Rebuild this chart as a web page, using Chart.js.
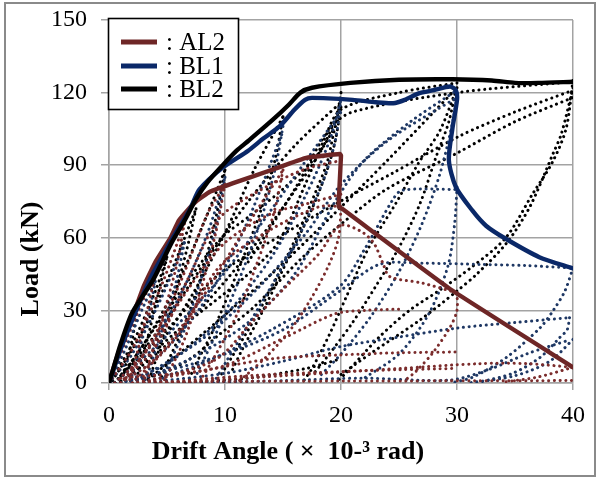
<!DOCTYPE html>
<html><head><meta charset="utf-8">
<script src="https://cdn.jsdelivr.net/npm/chart.js@4/dist/chart.umd.min.js"></script>
<style>html,body{margin:0;padding:0;background:#fff;}#wrap{width:598px;height:477px;}</style>
</head><body><div id="wrap"><canvas id="c" width="598" height="477"></canvas></div>
<script>
// ---- axis ticks ----
const xTicks = [0, 10, 20, 30, 40];
const yTicks = [0, 30, 60, 90, 120, 150];
const legendLabels = [': AL2', ': BL1', ': BL2'];
const xTitle = 'Drift Angle ( \u00D7  10-\u00B3 rad)';
const yTitle = 'Load (kN)';

// ---- envelope (skeleton) curves [drift, load] ----
const al2Envelope = [[0,0],[0.5,8],[1,15],[2,27],[3,40],[4,50],[5.3,60],[6,67],[6.7,71],[7.5,75],[8.7,79],[10.7,82.6],[14,88],[17,93],[19.9,94.6],[20,94],[19.8,72.8],[20.1,72],[29.6,38.2],[40,6.5]];
const bl1Envelope = [[0,0],[0.5,7],[1,14],[2,26],[3.5,42.6],[4.8,54],[5.5,60],[7,72],[7.8,80],[9.8,89],[12,96],[13.3,101],[14.7,106],[16,113],[16.9,117],[17.5,117.8],[21,117],[23,116],[24.5,115.6],[25.5,117],[26.7,119.7],[28,121],[29.4,122.5],[29.9,121],[30,117],[29.6,105],[29.3,92],[29.9,81],[31.3,71.4],[32.5,65],[34.2,59.6],[37.1,52],[40,47.3]];
const bl2Envelope = [[0,0],[0.5,8],[1,16],[2,29],[3.8,42.6],[5.4,58],[6.5,67],[7.5,76],[8.5,83],[9.8,90],[11,96],[12,100],[14.1,108.7],[15.5,115],[16.5,120],[17.5,122],[20.8,124],[25,125.3],[29.6,125.5],[33,125],[35,124],[37,124],[40,124.5]];

// ---- hysteresis loops (dotted) [drift, load] ----
const al2Loops = [
 [[0,0],[1.5,18],[3,35],[4,45]],
 [[4,45],[3.3,30],[2.3,10],[1.7,0]],
 [[0,0],[2,14],[4.5,40],[6.5,66]],
 [[6.5,66],[5.8,48],[4.5,25],[3.3,6],[3,0]],
 [[0.5,0],[3,12],[6,40],[8.5,70],[10,82]],
 [[10,82],[9.2,62],[8,40],[6.5,18],[5,3],[4.6,0]],
 [[1,0],[4,10],[8,35],[11.5,62],[15,88]],
 [[15,88],[14.2,70],[12.8,50],[11,28],[9,10],[8,2]],
 [[1,0],[4,15],[7,45],[9.5,68],[12.4,78],[16.7,88],[20,92]],
 [[2,0],[6,20],[9.5,48],[13.8,63],[18.1,72.8],[20,73]],
 [[1,0],[4,18],[7,40],[10,58],[14,70],[17,74],[20,78]],
 [[20,72],[19.8,60.3],[19,49.3],[17.5,35.5],[15.8,23],[13.8,12],[12,4],[11,0]],
 [[3,0],[6,4],[9.5,10.6],[12.4,25.8],[15.2,39.6],[18.1,53.4],[19.9,65],[21.6,63],[22.8,58],[23.6,49.6],[24.2,44],[27,41.3],[30,37.2]],
 [[30,37.2],[30,30],[29.4,23],[27.9,12.4],[26.5,5],[25.5,1]],
 [[1,2],[9.5,6.5],[15.2,18.9],[19.5,28.6],[22,30],[25,30.5]],
 [[2,0],[8,5],[14,10],[19.9,11.6],[25,12.5],[30,12.8]],
 [[4,0],[12,3],[19.9,4.7],[25,5.5],[30,6]],
 [[5,0],[15,3],[25,6],[32,8],[36,8],[40,6.5]],
 [[40,6.5],[37,2.5],[34,0.4]],
 [[3,0.5],[20,0.8],[40,1]]
];
const bl1Loops = [
 [[0,0],[1.5,15],[3,32],[4,42]],
 [[4,42],[3.4,28],[2.4,10],[1.8,0]],
 [[0,0],[2,12],[4.5,35],[6.5,58]],
 [[6.5,58],[5.8,42],[4.6,22],[3.5,6],[3,0]],
 [[0.5,0],[3,12],[6,35],[8.5,62],[10,85]],
 [[10,85],[9.3,66],[8,44],[6.5,22],[5,6],[4.5,0]],
 [[1,0],[4,10],[8,32],[11.5,62],[15,104]],
 [[15,106],[14.3,88],[13,66],[11,40],[9,18],[7.5,3]],
 [[1,0],[5,8],[10,28],[14,52],[17,78],[19,100],[20,117]],
 [[0.5,0],[4,15],[9,40],[13,65],[17,92],[20,112]],
 [[20,117],[19.5,100],[18.5,84],[16.5,62],[14,40],[11.5,20],[10,8],[9,0]],
 [[2,0],[7,10],[12,25],[16,45],[19.5,75],[22,92],[26,108],[30,121]],
 [[2,0],[8,18],[13,40],[17,62],[20,82],[24,100],[30,118]],
 [[30,118],[29.5,105],[28.5,86],[27,66],[25,46],[22.5,27],[20,12],[18,2]],
 [[3,0],[8,8],[14,22],[19.9,40],[22,55],[24.5,76],[25.3,79.7],[30,80]],
 [[30,81],[29.8,66],[29.2,48],[27.5,28],[25,12],[22,2]],
 [[1,0],[5,5],[10,12],[15,22],[19.9,38],[23.3,49],[27,49.5],[32,49],[36,48.5],[40,47.5]],
 [[40,47.5],[39.3,38],[38.3,30],[37.2,23],[34.3,10.7],[31.4,2.5],[29.5,0]],
 [[3,0],[10,4],[15,9],[19.9,15],[25,19],[30,22.7],[35,25],[39.7,27]],
 [[39.7,27],[39.5,22],[38.9,19],[37.2,10.7],[34.8,4],[32,0.4]],
 [[5,0],[15,1],[22,2],[29.4,1.2],[33,6],[36,12],[39.7,17.8]],
 [[40,18],[38,9],[35,3],[31,0]]
];
const bl2Loops = [
 [[0,0],[1,14],[2,28],[2.5,33]],
 [[2.5,33],[2,18],[1.3,5],[1,0]],
 [[0,0],[2,16],[4,38],[5,52]],
 [[5,52],[4.3,38],[3.3,18],[2.5,4],[2.2,0]],
 [[0.3,1],[2.5,18],[5,42],[7.5,72]],
 [[7.5,72],[6.7,55],[5.5,33],[4.2,12],[3.5,2]],
 [[0.5,0],[3,16],[6,42],[8.5,70],[10,88]],
 [[10,88],[9.2,68],[8,45],[6.5,24],[5,8],[4.5,2]],
 [[1,0],[4,14],[7,35],[10,62],[12.5,88],[15,110]],
 [[15,110],[14.3,92],[13,70],[11,45],[9,22],[7.3,6],[6.8,0]],
 [[1,2],[5,30],[9.5,59],[12.4,70],[15.2,81],[18.1,95],[19.5,109],[20,118]],
 [[0.5,0],[4,20],[8,48],[12,75],[16,98],[20,116]],
 [[1,0],[5,16],[10,42],[14,66],[17.5,90],[20,110]],
 [[1,0],[6,22],[12,45],[14.7,59],[17,83],[18.5,100],[20,113],[25,120],[30,124]],
 [[3,0],[8,20],[14,45],[19,68],[24,92],[28,112],[30,122]],
 [[20,120],[19.7,110],[19.4,104],[18.8,91],[17.9,80],[16.5,64],[14.5,44],[12.5,26],[10.5,10],[9.5,2]],
 [[20,114],[19.5,100],[18.8,88],[17.5,72],[15.5,52],[13.5,32],[11.5,14],[10.5,4]],
 [[30,124],[29.3,108],[28.2,93.5],[26.8,74],[25,56],[23,40],[21,25],[19,12],[17.5,3]],
 [[30,122],[28.5,104],[26.7,91],[24.7,74],[22.4,56],[20.4,35],[19,20],[17.5,6],[16.8,1]],
 [[1,3],[5,22],[9.5,45],[15.2,62],[20.1,75.5],[24.4,86.6],[30.2,102],[35,112],[40,121]],
 [[0,0],[4,3],[7,10],[9.5,20],[12.4,31],[16.7,52],[20.1,66],[23.9,80],[30,95],[35,108],[40,118]],
 [[12,50],[16,80],[19,105],[21,112],[30,120],[40,124.5]],
 [[40,125],[39.4,105],[38.2,91],[36.5,78],[34.2,60],[31.3,48],[28.4,38],[25.9,30],[23.3,19],[20.4,4],[19.5,0]],
 [[40,122],[39,103],[38.3,95],[36.3,73],[34.3,58],[31.7,45],[30,38],[26.8,26],[22.8,13],[19.7,2.5]],
 [[6,0],[12,2],[17,6],[20,10]]
];

const colAL2 = '#6E2626', colBL1 = '#0A2868', colBL2 = '#000000';
const dotAL2 = '#7B2C2C', dotBL1 = '#1F3864', dotBL2 = '#000000';

const toPts = arr => arr.map(p => ({x: p[0], y: p[1]}));
function envelope(arr, color, order, tension) {
  return {data: toPts(arr), borderColor: color, borderWidth: 4.4, showLine: true, pointRadius: 0, pointHoverRadius: 0,
          tension: tension, order: order, fill: false, borderCapStyle: 'round', borderJoinStyle: 'round'};
}
function dotted(arr, color) {
  return {data: toPts(arr), borderColor: color, borderWidth: 3, showLine: true, pointRadius: 0, pointHoverRadius: 0,
          tension: 0.3, order: 10, fill: false, borderDash: [0.1, 5.6], borderCapStyle: 'round'};
}
const datasets = [];
al2Loops.forEach(l => datasets.push(dotted(l, dotAL2)));
bl1Loops.forEach(l => datasets.push(dotted(l, dotBL1)));
bl2Loops.forEach(l => datasets.push(dotted(l, dotBL2)));
datasets.push(envelope(al2Envelope, colAL2, 3, 0.1));
datasets.push(envelope(bl1Envelope, colBL1, 2, 0.25));
datasets.push(envelope(bl2Envelope, colBL2, 1, 0.25));

const serif = "'Liberation Serif', 'Times New Roman', serif";
const gridCol = '#a3a3a3';

const decor = {
  id: 'decor',
  afterDraw(chart) {
    const ctx = chart.ctx;
    ctx.save();
    ctx.strokeStyle = '#8a8a8a'; ctx.lineWidth = 2;
    ctx.strokeRect(5, 3, 590, 473);
    ctx.fillStyle = '#000';
    ctx.font = 'bold 26px ' + serif;
    ctx.textAlign = 'center'; ctx.textBaseline = 'middle';
    ctx.fillText(xTitle, 288, 452);
    ctx.save();
    ctx.translate(31, 259); ctx.rotate(-Math.PI / 2);
    ctx.fillText(yTitle, 0, 0);
    ctx.restore();
    ctx.fillStyle = '#fff';
    ctx.fillRect(108, 18, 131, 92);
    ctx.strokeStyle = '#000'; ctx.lineWidth = 1.6;
    ctx.strokeRect(108.5, 18.5, 130, 91);
    const cols = [colAL2, colBL1, colBL2];
    const ys = [42, 66, 89];
    ctx.font = '25px ' + serif;
    ctx.textAlign = 'left'; ctx.textBaseline = 'middle';
    for (let i = 0; i < 3; i++) {
      ctx.strokeStyle = cols[i]; ctx.lineWidth = 5; ctx.lineCap = 'butt';
      ctx.beginPath(); ctx.moveTo(121, ys[i]); ctx.lineTo(157, ys[i]); ctx.stroke();
      ctx.fillStyle = '#000';
      ctx.fillText(legendLabels[i], 166, ys[i] + 1);
    }
    ctx.restore();
  }
};

new Chart(document.getElementById('c'), {
  type: 'scatter',
  data: {datasets},
  options: {
    responsive: false, animation: false, devicePixelRatio: 1,
    layout: {autoPadding: false, padding: {left: 5, right: 25, top: 20, bottom: 0}},
    plugins: {legend: {display: false}, tooltip: {enabled: false}},
    scales: {
      x: {
        type: 'linear', min: 0, max: 40,
        afterBuildTicks: s => { s.ticks = xTicks.map(v => ({value: v})); },
        afterFit: s => { s.height = 94; s.paddingLeft = 0; s.paddingRight = 0; },
        ticks: {font: {family: serif, size: 24}, color: '#000', padding: 11, maxRotation: 0},
        grid: {color: gridCol, lineWidth: 1.5, tickLength: 7},
        border: {color: gridCol, width: 1.5}
      },
      y: {
        type: 'linear', min: 0, max: 150,
        afterBuildTicks: s => { s.ticks = yTicks.map(v => ({value: v})); },
        afterFit: s => { s.width = 104; s.paddingTop = 0; s.paddingBottom = 0; },
        ticks: {font: {family: serif, size: 24}, color: '#000', padding: 14},
        grid: {color: gridCol, lineWidth: 1.5, tickLength: 8},
        border: {color: gridCol, width: 1.5}
      }
    }
  },
  plugins: [decor]
});
</script>
</body></html>
